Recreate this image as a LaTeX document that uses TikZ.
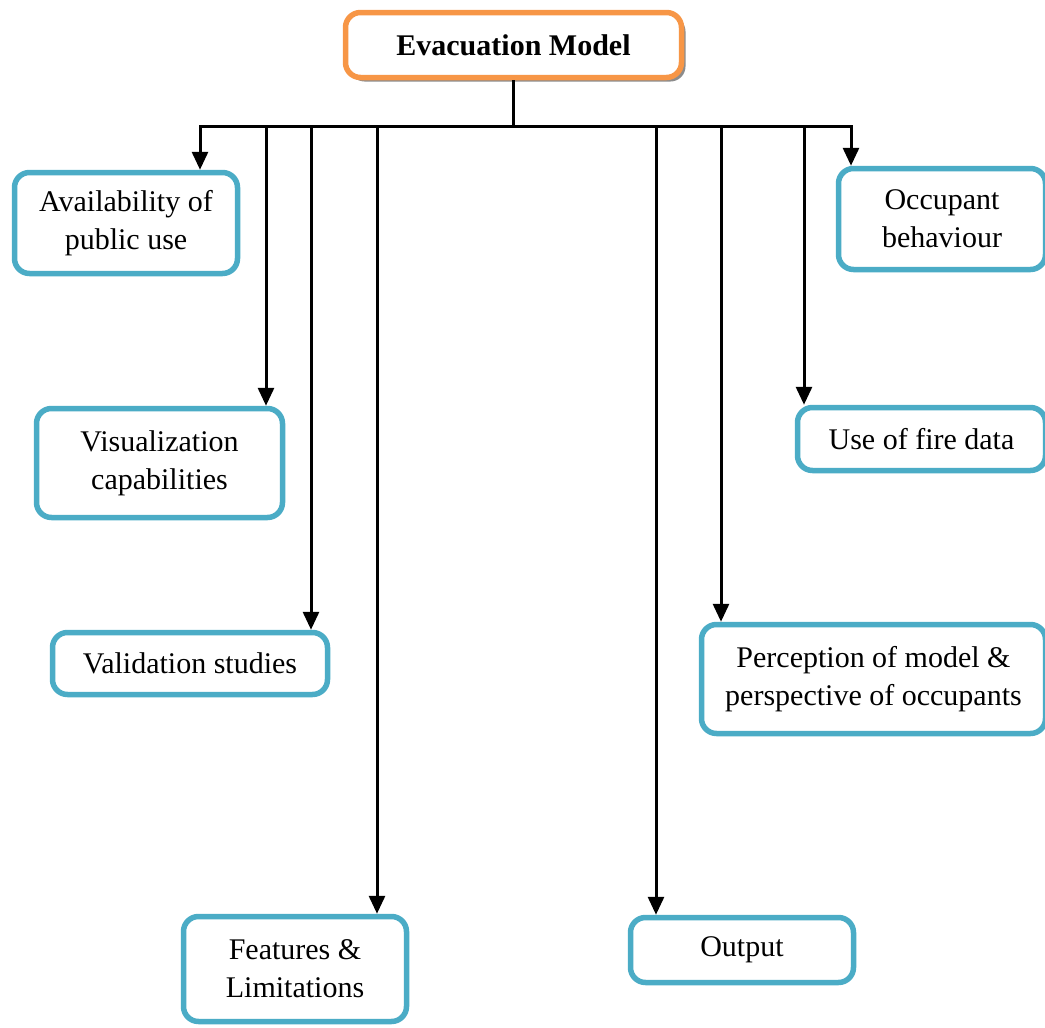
\documentclass[tikz,border=0pt]{standalone}
\usepackage{fontspec}
\setmainfont{Liberation Serif}
\usetikzlibrary{arrows.meta,shadows}
\definecolor{bleuboite}{HTML}{4BACC6}
\definecolor{orangeboite}{HTML}{F79646}
\tikzset{
  boite/.style={draw=bleuboite, line width=5.5pt, rounded corners=15pt, fill=white,
    align=center, inner sep=0pt, font=\fontsize{30}{38}\selectfont},
  pointe/.tip={Triangle[length=18pt,width=16pt]},
  fleche/.style={line width=3pt, -pointe},
}
\begin{document}
\begin{tikzpicture}[x=1pt, y=-1pt]
    \useasboundingbox (0,0) rectangle (1045,1028);

    % Boîte principale
    \node[boite, draw=orangeboite, font=\fontsize{30}{38}\selectfont\bfseries,
          minimum width=336pt, minimum height=65pt,
          drop shadow={shadow xshift=4pt, shadow yshift=-4pt, fill=black!45, opacity=1}]
          (modele) at (513.5, 45) {Evacuation Model};

    % Boîtes des critères
    \node[boite, minimum width=223pt, minimum height=101pt] (dispo)   at (126, 223)   {Availability of\\public use};
    \node[boite, minimum width=246pt, minimum height=109pt] (visu)    at (159.5, 463) {Visualization\\capabilities};
    \node[boite, minimum width=275pt, minimum height=62pt]  (valid)   at (190, 663.5) {Validation studies};
    \node[boite, minimum width=223pt, minimum height=105pt] (limites) at (295, 969)   {Features \&\\Limitations};
    \node[boite, minimum width=223pt, minimum height=65pt]  (sortie)  at (742, 950)   {Output};
    \node[boite, minimum width=344pt, minimum height=109pt] (percep)  at (873.5, 679) {Perception of model \&\\perspective of occupants};
    \node[boite, minimum width=248pt, minimum height=63pt]  (feu)     at (921.5, 439) {Use of fire data};
    \node[boite, minimum width=207pt, minimum height=101pt] (occup)   at (942, 219)   {Occupant\\behaviour};

    % Points de dérivation sur la barre
    \coordinate (t1) at (200, 126);
    \coordinate (t2) at (266, 126);
    \coordinate (t3) at (311, 126);
    \coordinate (t4) at (377, 126);
    \coordinate (t5) at (656, 126);
    \coordinate (t6) at (721, 126);
    \coordinate (t7) at (804, 126);
    \coordinate (t9) at (851, 126);

    % Barre horizontale et liaisons
    \draw[line width=3pt] (modele.south) -- (modele.south |- t1);
    \draw[line width=3pt, pointe-pointe] (t1 |- dispo.north) -- (t1) -- (t9) -- (t9 |- occup.north);
    \foreach \t/\b in {t2/visu, t3/valid, t4/limites, t5/sortie, t6/percep, t7/feu}
        \draw[fleche] (\t) -- (\t |- \b.north);
\end{tikzpicture}
\end{document}
